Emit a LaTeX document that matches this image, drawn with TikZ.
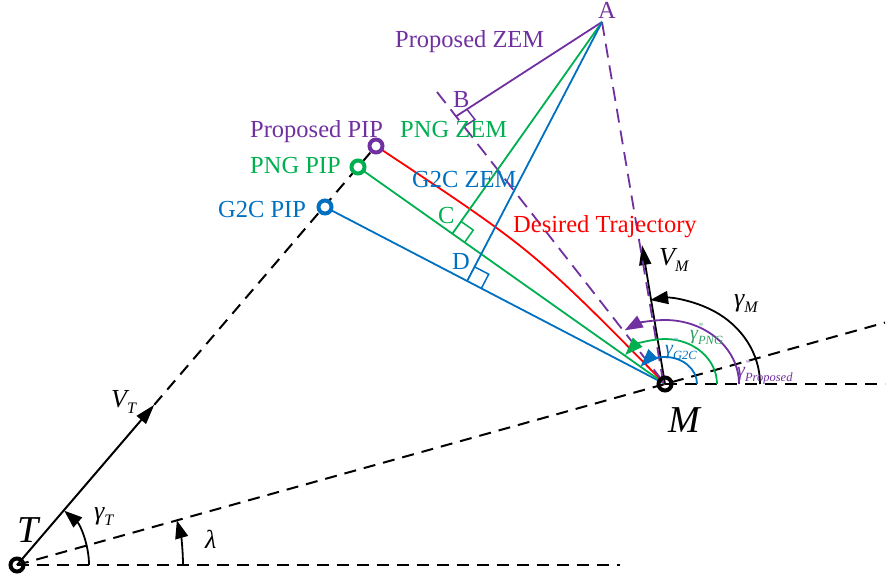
\documentclass[tikz,border=0pt]{standalone}
\usepackage{fontspec}
\setmainfont{Liberation Serif}
\usetikzlibrary{arrows.meta,calc}
\definecolor{purp}{RGB}{112,48,160}
\definecolor{grn}{RGB}{0,176,80}
\definecolor{blu}{RGB}{0,112,192}
\definecolor{teal2}{RGB}{50,160,100}
\newcommand\lowsub[1]{\raisebox{-6pt}{\fontsize{16}{16}\selectfont\itshape #1}}
\newcommand\tinysub[1]{\raisebox{-5pt}{\fontsize{12.5}{13}\selectfont\itshape #1}}
\newcommand\starup[1]{\rlap{\raisebox{10pt}{\fontsize{10}{10}\selectfont\color{#1}*}}}
\begin{document}
\begin{tikzpicture}[x=1pt,y=-1pt,
  dsh/.style={dash pattern=on 12pt off 8pt, line width=2pt},
  ln/.style={line width=1.8pt},
  lbl/.style={inner sep=0, anchor=base west, font=\fontsize{24.5}{28}\selectfont},
  mlbl/.style={inner sep=0, anchor=base west, font=\fontsize{26}{28}\selectfont\itshape},
  big/.style={inner sep=0, anchor=base west, font=\fontsize{38}{40}\selectfont\itshape},
  glbl/.style={inner sep=0, anchor=base west, font=\fontsize{20}{22}\selectfont\itshape},
  pip/.style={circle, fill=white, line width=4pt, minimum size=13pt, inner sep=0},
  ring/.style={circle, draw=black, line width=4pt, minimum size=13pt, inner sep=0},
  tri/.style={-{Triangle[length=18pt,width=13pt]}},
  sqmark/.style={line width=1.5pt}
]
\useasboundingbox (0,0) rectangle (893,582);
% key points
\coordinate (Tc) at (17,565);
\coordinate (Mc) at (665,384);
\coordinate (A) at (602,22);
\coordinate (Mv) at (663.5,384);
\coordinate (ppc) at (376,146);
\coordinate (pgc) at (358,167);
\coordinate (pbc) at (325,207);
\coordinate (Pd) at (437,92);
\coordinate (Th) at (620,565);
\coordinate (Mh) at (885,384);
\coordinate (Los) at ($(Tc)!1.3395!(Mc)$);
\coordinate (VTtip) at ($(Tc)!211pt!(ppc)$);
\coordinate (VMtip) at (642,245);
\coordinate (C) at ($(pgc)!(A)!(Mc)$);
\coordinate (D) at ($(pbc)!(A)!(Mc)$);
\coordinate (B) at ($(Mc)!0.9167!(Pd)$);

% reference dashed lines
\draw[dsh] (Tc) -- (Th);
\draw[dsh] (Mc) -- (Mh);
\draw[dsh] (Tc) -- (Los);
\draw[line width=2pt, -{Triangle[length=20pt,width=12pt]}] (Tc) -- (VTtip);
\draw[dsh] (VTtip) -- (ppc);

% trajectories
\draw[ln, blu] (pbc) -- (Mc);
\draw[ln, grn] (pgc) -- (Mc);
\draw[ln, red] (ppc) .. controls (533,250) .. (Mc);
\draw[purp, line width=1.8pt, dash pattern=on 14pt off 8pt] (Pd) -- (Mc);

% V_M
\draw[line width=1.8pt, -{Triangle[length=20pt,width=12pt]}] (Mc) -- (VMtip);
\draw[purp, line width=1.8pt, dash pattern=on 14pt off 8pt] (A) -- (Mv);

% ZEM lines
\draw[ln, purp] (A) -- (B);
\draw[ln, grn] (A) -- (C);
\draw[ln, blu] (A) -- (D);

% right angle marks
\coordinate (Ba) at ($(B)!13pt!(A)$);
\coordinate (Bm) at ($(B)!13pt!(Mc)$);
\coordinate (Bx) at ($(Ba)+(Bm)-(B)$);
\draw[sqmark, purp] (Ba) -- (Bx) -- (Bm);
\coordinate (Ca) at ($(C)!15pt!(A)$);
\coordinate (Cm) at ($(C)!15pt!(Mc)$);
\coordinate (Cx) at ($(Ca)+(Cm)-(C)$);
\draw[sqmark, grn] (Ca) -- (Cx) -- (Cm);
\coordinate (Da) at ($(D)!16pt!(A)$);
\coordinate (Dm) at ($(D)!16pt!(Mc)$);
\coordinate (Dx) at ($(Da)+(Dm)-(D)$);
\draw[sqmark, blu] (Da) -- (Dx) -- (Dm);

% angle arcs at M
\draw[line width=1.8pt, tri] ($(Mc)+(95,0)$) arc[start angle=0, end angle=-99, x radius=95, y radius=85];
\draw[line width=1.8pt, purp, tri] ($(Mc)+(74,0)$) arc[start angle=0, end angle=-123, x radius=74, y radius=64];
\draw[line width=1.8pt, grn, tri] ($(Mc)+(52,0)$) arc[start angle=0, end angle=-140, x radius=52, y radius=45];
\draw[line width=1.8pt, blu, tri] ($(Mc)+(32,0)$) arc[start angle=0, end angle=-140, x radius=32, y radius=27];

% angle arcs at T
\draw[line width=1.8pt, tri] ($(Tc)+(72,0)$) arc[start angle=0, end angle=-49, radius=72];
\draw[line width=1.8pt, tri] ($(Tc)+(166,0)$) arc[start angle=0, end angle=-15.6, radius=166];

% points
\node[pip, draw=purp] (PP) at (ppc) {};
\node[pip, draw=grn] (PG) at (pgc) {};
\node[pip, draw=blu] (PB) at (pbc) {};
\node[ring] (M) at (Mc) {};
\node[ring] (T) at (Tc) {};

% labels
\node[lbl, purp] (lA) at (598,18) {A};
\node[lbl, purp] (lPZ) at (395,47) {Proposed ZEM};
\node[lbl, purp] (lB) at (453,107) {B};
\node[lbl, purp] (lPP) at (250,137) {Proposed PIP};
\node[lbl, grn] (lGZ) at (400,137) {PNG ZEM};
\node[lbl, grn] (lGP) at (250,173) {PNG PIP};
\node[lbl, blu] (lBZ) at (412,187) {G2C ZEM};
\node[lbl, blu] (lBP) at (218,217) {G2C PIP};
\node[lbl, grn] (lC) at (438,223) {C};
\node[lbl, blu] (lD) at (452,269) {D};
\node[lbl, red] (lDT) at (513,232) {Desired Trajectory};

\node[big] (lM) at (668,432) {M};
\node[big] (lT) at (17,542) {T};
\node[mlbl] (lVM) at (659,265) {V\lowsub{M}};
\node[mlbl] (lgM) at (734,306) {γ\lowsub{M}};
\node[mlbl] (lVT) at (111,407) {V\lowsub{T}};
\node[mlbl] (lgT) at (94,519) {γ\lowsub{T}};
\node[mlbl] (llam) at (205,548) {λ};

\node[glbl, blu] (lgB) at (665,354) {γ\starup{blu!60}\tinysub{G2C}};
\node[glbl, teal2] (lgG) at (690,339) {γ\starup{teal2!70}\tinysub{PNG}};
\node[glbl, purp] (lgP) at (737,376) {γ\starup{purp!60}\tinysub{Proposed}};
\end{tikzpicture}
\end{document}
